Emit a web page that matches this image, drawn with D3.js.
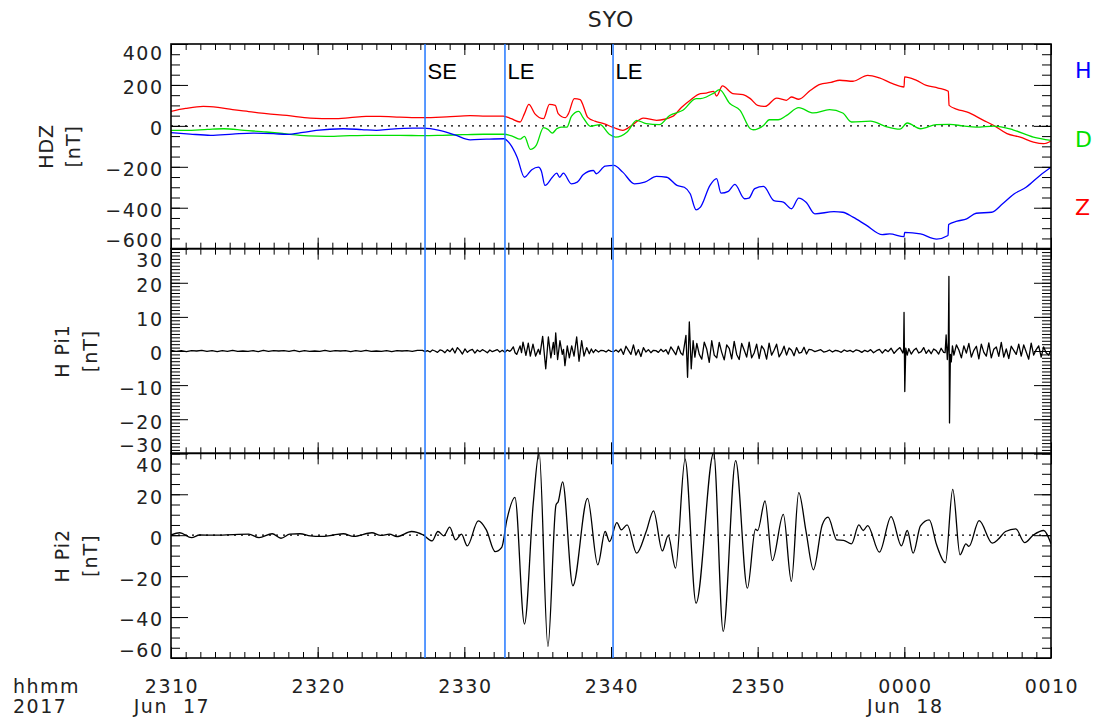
<!DOCTYPE html>
<html>
<head>
<meta charset="utf-8">
<script src="https://cdn.jsdelivr.net/npm/d3@7"></script>
<style>
  body { margin: 0; background: #fff; }
  svg { display: block; font-family: "DejaVu Sans", sans-serif; }
</style>
</head>
<body>
<svg id="chart" width="1103" height="719"></svg>
<script>
// ---- Syowa (SYO) magnetometer, 2017-06-17 23:10 to 06-18 00:10 UT ----
// Times are minutes after 23:10 UT.

// H, D, Z components [minute, nT]
const hComp = [[0,-33],[1.3,-40],[2.7,-46],[4.2,-40],[5.6,-35],[7.0,-38],[7.9,-42],[9.0,-32],[9.9,-22],[11.75,-14],[13.0,-18],[14.0,-22],[15.0,-16],[16.5,-11],[17.2,-11],[18.3,-22],[19.4,-45],[20.4,-68],[21.5,-65],[22.7,-63],[23.1,-87],[23.6,-153],[24.1,-251],[24.6,-214],[25.05,-202],[25.25,-220],[25.5,-291],[26.0,-251],[26.3,-231],[26.5,-251],[26.75,-231],[27.3,-283],[27.7,-275],[28.1,-239],[28.8,-218],[29.0,-234],[29.6,-197],[30.2,-193],[30.8,-226],[31.6,-283],[32.3,-275],[33.1,-247],[33.8,-251],[34.5,-291],[35.0,-300],[35.4,-332],[35.8,-410],[36.1,-397],[36.75,-291],[37.2,-258],[37.5,-329],[38.0,-320],[38.45,-286],[39.1,-356],[39.4,-353],[39.8,-307],[40.4,-296],[41.1,-365],[41.75,-373],[42.3,-405],[42.8,-353],[43.3,-373],[43.9,-430],[45.2,-419],[45.8,-422],[46.5,-446],[47.4,-485],[48.5,-531],[49.0,-528],[49.98,-541],[50.02,-520],[51.1,-528],[52.2,-553],[52.98,-536],[53.02,-482],[53.6,-466],[54.25,-454],[54.9,-427],[55.95,-422],[56.7,-381],[57.5,-332],[58.3,-300],[59.25,-242],[60,-202]];
const dComp = [[0,-22],[1,-22],[2.5,-17],[3.6,-14],[5,-22],[6.5,-30],[7.7,-38],[8.8,-46],[10,-50],[11.1,-51],[12.2,-48],[13.3,-46],[14.25,-46],[15.6,-46],[17.2,-48],[18.5,-46],[19.9,-43],[21.3,-41],[22.7,-41],[23.3,-51],[23.8,-65],[24.1,-51],[24.5,-115],[24.9,-95],[25.4,-9],[25.7,-17],[26.0,-35],[26.3,-14],[26.6,-6],[27.0,-6],[27.3,46],[27.8,71],[28.1,40],[28.6,-2],[29.25,6],[29.9,-42],[30.3,-55],[31.1,-30],[31.75,27],[32.4,11],[33.3,6],[34.0,51],[34.9,76],[35.8,133],[36.1,133],[36.5,141],[37.0,160],[37.4,177],[38.1,109],[38.8,76],[39.5,-14],[39.7,-19],[40.4,2],[40.8,30],[41.4,30],[41.98,51],[42.8,89],[43.8,63],[44.9,79],[45.8,63],[46.4,19],[47.7,23],[48.7,-2],[49.7,-16],[50.2,14],[51.1,-14],[52.2,6],[53.1,7],[54.0,0],[54.9,-6],[56.1,-1],[57.4,-19],[58.8,-55],[60,-71]];
const zComp = [[0,71],[1,85],[2.2,95],[3.2,90],[4.2,79],[5.3,70],[6.5,60],[7.9,51],[9.5,38],[11.1,35],[12.2,40],[13.3,46],[14.25,46],[15.6,43],[17.2,40],[18.8,44],[20.4,50],[21.5,48],[22.66,48],[23.2,35],[23.8,19],[24.1,60],[24.4,105],[24.8,60],[25.4,35],[25.8,105],[26.2,100],[26.4,60],[26.9,40],[27.1,60],[27.5,133],[27.9,128],[28.1,100],[28.4,43],[28.9,23],[29.5,11],[30.2,-9],[30.8,-22],[31.5,7],[32.2,38],[33.1,27],[34.2,46],[34.8,90],[35.4,125],[36.1,158],[36.5,160],[37.0,169],[37.2,146],[37.6,195],[38.3,158],[39.0,153],[39.5,133],[40.0,100],[40.5,95],[41.3,136],[41.96,125],[42.3,141],[42.8,130],[43.6,174],[44.25,203],[45.0,212],[45.6,223],[46.5,218],[47.5,247],[48.3,234],[49.2,206],[49.98,190],[50.02,239],[50.8,223],[51.5,198],[52.3,185],[53.0,169],[53.05,100],[53.6,81],[54.25,68],[55.4,27],[56.1,2],[57.0,-38],[57.9,-55],[58.8,-79],[59.5,-87],[60,-74]];

// Pi1-band filtered H: evenly sampled runs plus hand-listed bursts
const pi1Quiet = [0.2,-0.1,0.1,-0.2,0.1,0,0.2,-0.1,0.1,-0.2,0.1,-0.1,0.2,-0.1,0,-0.1,0.1,-0.2,0.2,-0.1,0.1,0,0.1,-0.1,0.2,-0.2,0.1,-0.1,0,-0.1,0.2,-0.1,0.1,0,0.1,-0.2,0.1,-0.1,0.2,-0.1,0,-0.1,0.1,-0.2,0.1,0,0.1,-0.1,0.2];
const pi1Onset = [0.2,-0.2,0.1,-0.3,0.3,0,-0.4,0.3,0.1,-0.5,0.4,-0.2,0.8,-0.6,1.0,0.2,-0.9,0.6,-0.4,0.2,0.5,-0.6,0.3,-0.2,0.4,0,-0.5,0.3,-0.2,0.1,0.4,-0.3,0.2,-0.4,0.3,-0.1];
const pi1Calm1 = [-0.3,0.2,0.1,-0.3,0.3,-0.1,-0.2,0.3,-0.3,0.6,-1.0,1.4,0.2,-1.0,1.8,-1.2,0.4,-1.6,1.0,-0.3,0.4,-0.5,0.2,0.1,-0.4,0.5,-0.2,0.4,-0.9,1.2,0.1,-1.1,1.4,-0.6];
const pi1Wave = [2.2,-1.0,-2.4,2.6,0.5,-3.3,3.0,-1.2,-2.0,2.5,-0.4,-2.6,1.8,0.8,-2.3,2.8,-1.0,-2.5,2.2,0.3,-1.8,2.6,-2.0,-0.6,2.0,-2.2,1.5,0.4,-2.4,2.3,-1.2,0.2,2.0,-1.7,-0.5,1.4,-1.2,0.9,0.2,-1.4,1.0,-0.6,-0.4,1.1,-0.9,0.5];
const pi1Calm2 = [0.3,-0.2,0.1,0.4,-0.3,-0.1,0.3,-0.3,0.2,0,-0.4,0.3,-0.1,0.2,-0.3,0.3,0.1,-0.4,0.2,-0.2,0.4,-0.5,0.1,0.5,-0.6,0.4,-0.2,0.8,-0.7,0.3,1.0,-0.6];
const pi1Calm3 = [0.7,-0.9,0.2,0.8,-0.6,-0.2,1.0,-0.7,0.3,-0.8,0.6,0.1,-0.9,0.8,-0.4];
const pi1Tail = [-1.2,1.8,0.3,-2.0,1.5,-0.6,2.2,-1.8,0.2,1.4,-2.3,2.0,-0.4,-1.5,2.4,-2.0,0.5,1.2,-1.6,2.5,-1.8,0.6,-2.2,1.4,0.2,-1.0,2.0,-1.5,1.8,-0.3,-2.4,2.3,-1.2,0.4,1.5,-1.8,1.2,-0.5,-1.2];
const pi1Burst = [[23.2,0.3],[23.34,1.2],[23.46,-0.5],[23.57,-1],[23.8,1.5],[23.9,-0.5],[24.0,2.6],[24.2,-1.3],[24.36,2.3],[24.5,-1.5],[24.68,2],[24.86,-1.5],[25.05,0.5],[25.16,-1],[25.34,4.3],[25.55,-5.2],[25.73,4.1],[25.9,-2],[26.07,2.5],[26.15,-1],[26.23,5.3],[26.36,-2.5],[26.52,3],[26.68,-1],[26.76,0.5],[26.86,-4.3],[27.02,1.5],[27.16,-2],[27.32,1.5],[27.48,-1.5],[27.66,4.1],[27.82,-3],[28.0,3],[28.16,-1.5],[28.34,1],[28.52,-0.8],[28.66,0.6],[28.8,-0.5],[28.95,0.4]];
const pi1Spike1 = [[34.9,-1.2],[35.0,1.5],[35.11,4.6],[35.22,-7.7],[35.34,8.5],[35.47,-5.2],[35.6,3],[35.72,-1.8]];
const pi1Spike2 = [[49.95,0.6],[49.98,11.3],[50.03,-11.9],[50.1,0.8],[50.2,-1.2]];
const pi1Spike3 = [[52.78,-0.5],[52.85,4.7],[52.93,-2.5],[53.0,2.5],[53.04,21.9],[53.08,-21.1],[53.14,-1],[53.2,-3.2],[53.28,1.5],[60,0.3]];
// [start minute, sampling step (min), values]
const pi1Runs = [[0,0.35,pi1Quiet],[17.15,0.17,pi1Onset],[29.15,0.17,pi1Calm1],[35.85,0.17,pi1Wave],[43.7,0.2,pi1Calm2],[50.3,0.17,pi1Calm3],[53.38,0.17,pi1Tail]];

// Pi2-band filtered H [minute, nT]
const pi2 = [[0,0.1],[0.6,1.2],[1.4,-1.2],[1.95,0.1],[2.9,0],[4.27,0.3],[5.3,0.5],[6.0,-1.2],[6.9,0.7],[7.5,-1.5],[8.1,0.5],[8.8,0.7],[9.5,-0.3],[10.2,-0.6],[11.1,0.1],[11.75,0.7],[12.45,-0.6],[13.7,1.2],[14.3,-0.1],[14.9,0.5],[15.4,-0.7],[16.4,1.8],[17.2,0.1],[17.8,-2.8],[18.2,1.8],[18.6,-0.3],[19.0,3.9],[19.4,-2.3],[19.8,0.5],[20.2,-5.2],[20.95,7],[21.5,2.6],[22.1,-8],[22.55,-5.9],[22.9,7.5],[23.45,18.5],[24.1,-43.4],[24.7,15.6],[25.1,40.5],[25.7,-54.3],[26.25,14.8],[26.4,16.4],[26.7,26.1],[27.4,-24.7],[28.4,18],[29.1,-14.5],[29.6,1.8],[29.9,-3.1],[30.4,6.1],[30.7,2.6],[31.1,5],[31.75,-8.8],[32.4,1.8],[32.9,11.9],[33.5,-7.7],[33.9,-0.2],[34.4,-16.1],[35.05,37.1],[35.8,-33.2],[37.0,40.2],[37.65,-47],[38.5,36.4],[39.3,-25.9],[39.85,2.9],[40.0,2.3],[40.5,16.7],[41.0,-12.4],[41.75,10.2],[42.3,-22.6],[42.8,20.8],[43.3,1.8],[43.8,-16.9],[44.4,5],[44.8,8.8],[45.4,-2.3],[45.85,-2.5],[46.4,-4.2],[46.9,5],[47.2,2.3],[47.5,4.7],[48.3,-8.3],[49.1,9.1],[49.8,-5.2],[50.2,2.3],[50.6,-8.8],[51.1,4.5],[51.7,7.5],[52.2,-4.7],[52.8,-13.4],[53.3,22.4],[53.8,-9.6],[54.2,-4.2],[54.4,-5.5],[55.1,7.1],[56.0,-3.9],[56.4,-2],[56.9,1.8],[57.6,3.1],[58.2,-3.6],[58.8,0.1],[59.5,2.3],[60,-4.2]];

// Event markers
const eventMinutes = [17.32, 22.77, 30.14];
const eventLabels = ["SE", "LE", "LE"];

// Axis settings
const hdzDomain = [-600, 400], hdzMajor = 200, hdzMinor = 50;
const pi1Domain = [-30, 30], pi1Major = 10, pi1Minor = 1;
const pi2Domain = [-60, 40], pi2Major = 20, pi2Minor = 5;
const componentNames = ["H", "D", "Z"];

// ---------------------------------------------------------------
const svg = d3.select("#chart");
const L = 171, R = 1051, T = 44, B = 658;
const ph = (B - T) / 3;
const t0 = Date.UTC(2017, 5, 17, 23, 10);
const toDate = m => new Date(t0 + m * 60000);
const x = d3.scaleUtc().domain([toDate(0), toDate(60)]).range([L, R]);

const colH = "#0000ff", colD = "#00e000", colZ = "#ff0000";

// assemble Pi1 series
const pi1 = [];
pi1Runs.forEach(([s, st, vals]) => vals.forEach((v, i) => pi1.push([s + i * st, v])));
pi1.push(...pi1Burst, ...pi1Spike1, ...pi1Spike2, ...pi1Spike3);
pi1.sort((a, b) => a[0] - b[0]);

const panels = [
  { domain: hdzDomain, major: hdzMajor, minor: hdzMinor, title: ["HDZ", "[nT]"], tx: [53, 80], topDy: 16,
    series: [[zComp, colZ], [dComp, colD], [hComp, colH]], curve: d3.curveMonotoneX, zero: true },
  { domain: pi1Domain, major: pi1Major, minor: pi1Minor, title: ["H Pi1", "[nT]"], tx: [69, 97], topDy: 18.5,
    series: [[pi1, "#000"]], curve: d3.curveLinear, zero: false },
  { domain: pi2Domain, major: pi2Major, minor: pi2Minor, title: ["H Pi2", "[nT]"], tx: [69, 97], topDy: 18.5,
    series: [[pi2, "#000"]], curve: d3.curveMonotoneX, zero: true }
];

const fmtNum = d => d < 0 ? "\u2212" + Math.abs(d) : String(d);
const majorX = d3.utcMinute.every(10), minorX = d3.utcMinute.every(1);

panels.forEach((p, i) => {
  const y0 = T + i * ph, y1 = y0 + ph;
  const y = d3.scaleLinear().domain(p.domain).range([y1, y0]);
  const g = svg.append("g");

  const cid = "clip" + i;
  svg.append("clipPath").attr("id", cid).append("rect")
    .attr("x", L).attr("y", y0).attr("width", R - L).attr("height", ph);

  if (p.zero) {
    g.append("line").attr("x1", L).attr("x2", R).attr("y1", y(0)).attr("y2", y(0))
      .attr("stroke", "#000").attr("stroke-width", 1.2).attr("stroke-dasharray", "2,5");
  }

  const line = d3.line().x(d => x(toDate(d[0]))).y(d => y(d[1])).curve(p.curve);
  p.series.forEach(([data, c]) => {
    g.append("path").datum(data).attr("d", line).attr("fill", "none")
      .attr("stroke", c).attr("stroke-width", 1.3).attr("stroke-linejoin", "round")
      .attr("clip-path", `url(#${cid})`);
  });

  // ticks
  const minorY = d3.range(p.domain[0], p.domain[1] + 1e-9, p.minor);
  const majorY = d3.range(p.domain[0], p.domain[1] + 1e-9, p.major);
  const axes = [
    [d3.axisBottom(x).ticks(minorX).tickSize(-6), `translate(0,${y1})`],
    [d3.axisBottom(x).ticks(majorX).tickSize(-11), `translate(0,${y1})`],
    [d3.axisTop(x).ticks(minorX).tickSize(-6), `translate(0,${y0})`],
    [d3.axisTop(x).ticks(majorX).tickSize(-11), `translate(0,${y0})`],
    [d3.axisLeft(y).tickValues(minorY).tickSize(-9), `translate(${L},0)`],
    [d3.axisLeft(y).tickValues(majorY).tickSize(-17), `translate(${L},0)`],
    [d3.axisRight(y).tickValues(minorY).tickSize(-9), `translate(${R},0)`],
    [d3.axisRight(y).tickValues(majorY).tickSize(-17), `translate(${R},0)`]
  ];
  axes.forEach(([ax, tr]) => {
    const a = g.append("g").attr("transform", tr).call(ax.tickFormat("").tickSizeOuter(0));
    a.select(".domain").remove();
    a.selectAll("line").attr("stroke", "#000").attr("stroke-width", 1);
  });

  // y tick labels
  g.selectAll("text.ylab").data(majorY).join("text")
    .attr("class", "ylab")
    .attr("x", 163.5).attr("text-anchor", "end")
    .attr("y", d => d === p.domain[1] ? y0 + p.topDy : d === p.domain[0] ? y1 - 1.5 : y(d) + 9.4)
    .attr("font-size", 19).attr("letter-spacing", 1.5).attr("fill", "#222")
    .text(fmtNum);

  // y titles
  p.title.forEach((t, k) => {
    g.append("text")
      .attr("transform", `translate(${p.tx[k]},${(y0 + y1) / 2}) rotate(-90)`)
      .attr("text-anchor", "middle").attr("font-size", 19).attr("letter-spacing", 1)
      .attr("fill", "#222").style("white-space", "pre").text(t);
  });

  g.append("rect").attr("x", L).attr("y", y0).attr("width", R - L).attr("height", ph)
    .attr("fill", "none").attr("stroke", "#000").attr("stroke-width", 1.6);
});

// event lines and labels
eventMinutes.forEach((m, k) => {
  const xe = x(toDate(m));
  svg.append("line").attr("x1", xe).attr("x2", xe).attr("y1", T).attr("y2", B)
    .attr("stroke", "#2277ff").attr("stroke-width", 1.5);
  svg.append("text").attr("x", xe + 2.5).attr("y", 79)
    .attr("font-family", "'Liberation Sans', Arial, sans-serif").attr("font-size", 22)
    .attr("fill", "#000").text(eventLabels[k]);
});

// x tick labels
const xt = majorX.range(toDate(0), toDate(60.01));
svg.selectAll("text.xlab").data(xt).join("text")
  .attr("class", "xlab").attr("x", d => x(d) + 1).attr("y", 693)
  .attr("text-anchor", "middle").attr("font-size", 19).attr("letter-spacing", 1.5)
  .attr("fill", "#222").text(d3.utcFormat("%H%M"));
svg.selectAll("text.dlab").data(xt.filter((d, k) => k === 0 || d.getUTCHours() === 0 && d.getUTCMinutes() === 0))
  .join("text").attr("class", "dlab").attr("x", d => x(d) + 1).attr("y", 713)
  .attr("text-anchor", "middle").attr("font-size", 19).attr("letter-spacing", 1.5)
  .attr("fill", "#222").style("white-space", "pre").text(d3.utcFormat("%b  %d"));
svg.append("text").attr("x", 13).attr("y", 693).attr("font-size", 19).attr("letter-spacing", 1.5)
  .attr("fill", "#222").text("hhmm");
svg.append("text").attr("x", 13).attr("y", 713).attr("font-size", 19).attr("letter-spacing", 1.5)
  .attr("fill", "#222").text(d3.utcFormat("%Y")(toDate(0)));

// title
svg.append("text").attr("x", (L + R) / 2).attr("y", 27).attr("text-anchor", "middle")
  .attr("font-size", 22).attr("letter-spacing", 1).attr("fill", "#222").text("SYO");

// component legend
[colH, colD, colZ].forEach((c, k) => {
  svg.append("text").attr("x", 1075).attr("y", [78, 147, 215][k])
    .attr("font-size", 22).attr("fill", c).text(componentNames[k]);
});
</script>
</body>
</html>
